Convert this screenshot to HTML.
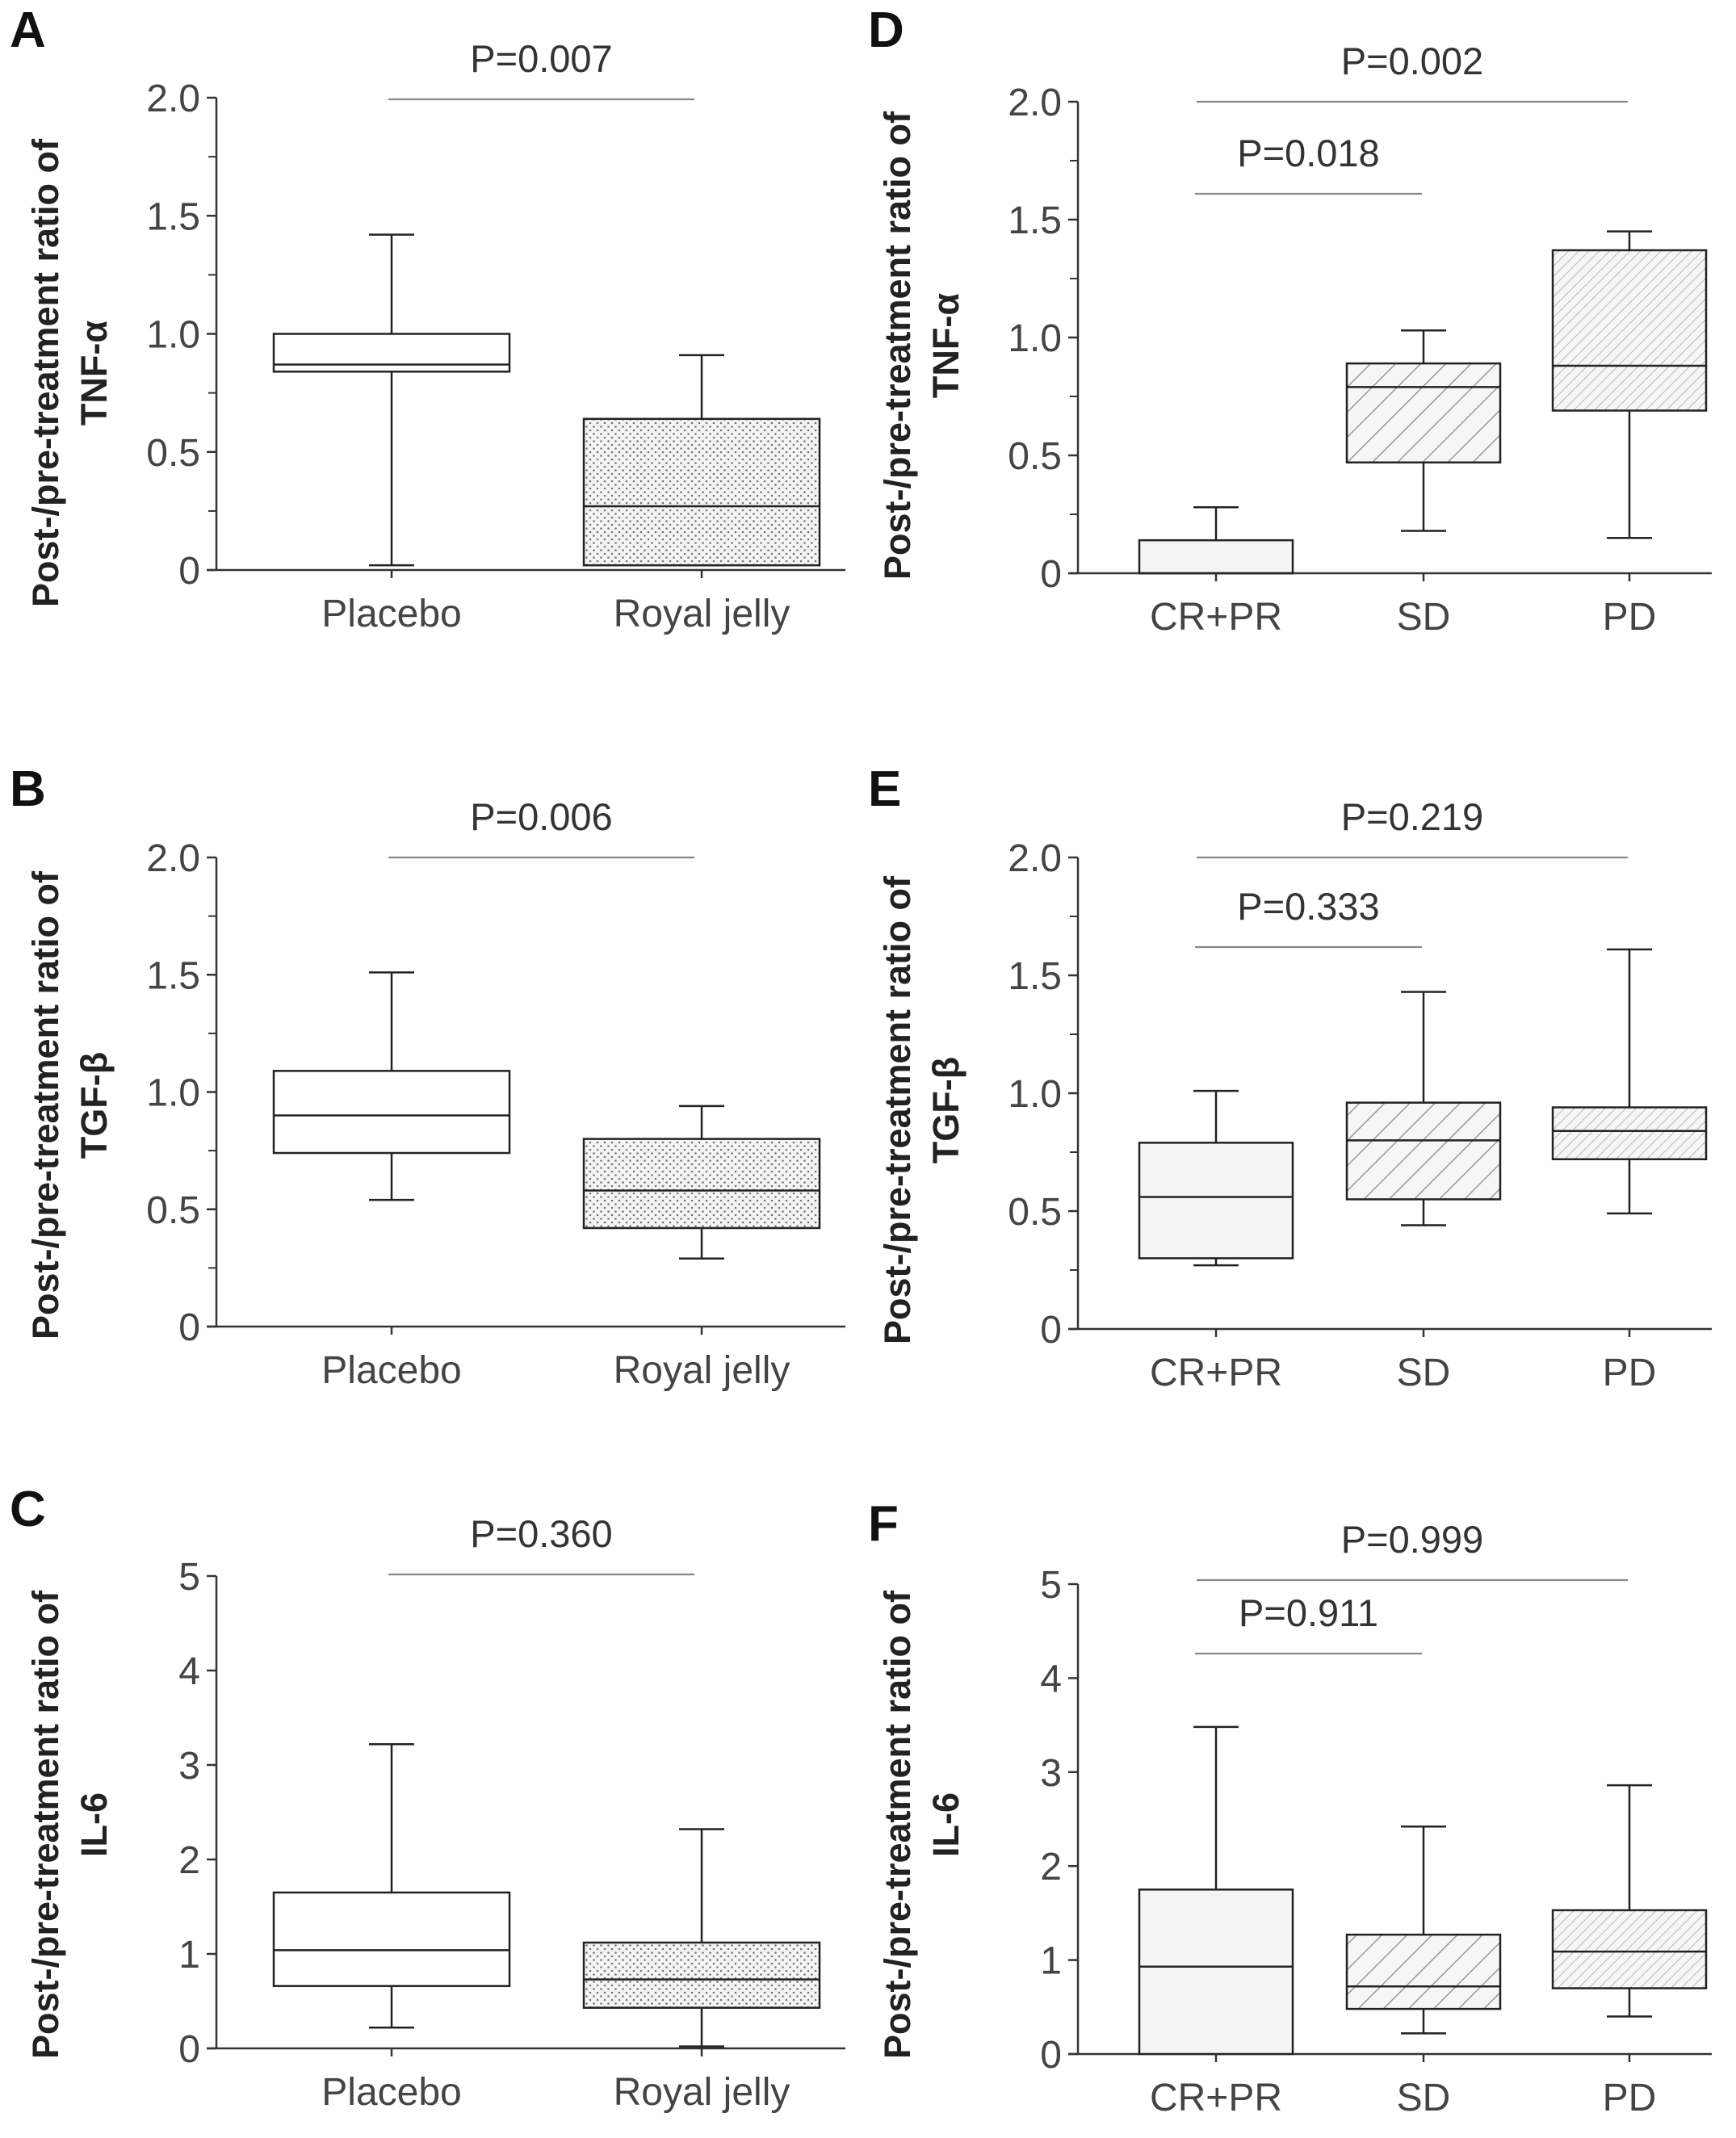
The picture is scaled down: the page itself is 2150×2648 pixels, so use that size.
<!DOCTYPE html>
<html><head><meta charset="utf-8"><style>
html,body{margin:0;padding:0;background:#fff}
svg{display:block}
text{font-family:"Liberation Sans",Arial,sans-serif}
</style></head><body>
<svg id="fig" width="2150" height="2648" viewBox="0 0 2150 2648" xmlns="http://www.w3.org/2000/svg">
<defs>
<pattern id="dots" width="9" height="9" patternUnits="userSpaceOnUse"><rect width="9" height="9" fill="#f4f4f4"/><circle cx="2" cy="2" r="1.3" fill="#777"/><circle cx="6.5" cy="6.5" r="1.3" fill="#777"/></pattern>
<pattern id="hatch" width="22" height="22" patternUnits="userSpaceOnUse" patternTransform="rotate(45)"><rect width="22" height="22" fill="#f6f6f6"/><line x1="0" y1="0" x2="0" y2="22" stroke="#999" stroke-width="3"/></pattern>
<pattern id="hatchfine" width="9" height="9" patternUnits="userSpaceOnUse" patternTransform="rotate(45)"><rect width="9" height="9" fill="#f6f6f6"/><line x1="0" y1="0" x2="0" y2="9" stroke="#aaa" stroke-width="1.6"/></pattern>
</defs>
</svg>
<script>
// [whiskLow, q1, median, q3, whiskHigh]
const catsAB = ["Placebo","Royal jelly"];
const dataA = [[0.02,0.84,0.87,1.0,1.42],[0.02,0.02,0.27,0.64,0.91]];
const dataB = [[0.54,0.74,0.9,1.09,1.51],[0.29,0.42,0.58,0.8,0.94]];
const dataC = [[0.22,0.66,1.04,1.65,3.22],[0.02,0.43,0.73,1.12,2.32]];
const catsDEF = ["CR+PR","SD","PD"];
const dataD = [[null,0,0,0.14,0.28],[0.18,0.47,0.79,0.89,1.03],[0.15,0.69,0.88,1.37,1.45]];
const dataE = [[0.27,0.3,0.56,0.79,1.01],[0.44,0.55,0.8,0.96,1.43],[0.49,0.72,0.84,0.94,1.61]];
const dataF = [[null,0,0.93,1.75,3.48],[0.22,0.48,0.72,1.27,2.42],[0.4,0.7,1.09,1.53,2.86]];
const ticks2 = ["0","0.5","1.0","1.5","2.0"];
const tickVals2 = [0,0.5,1,1.5,2];
const ticks5 = ["0","1","2","3","4","5"];
const tickVals5 = [0,1,2,3,4,5];
const pvalsA = ["P=0.007"], pvalsB = ["P=0.006"], pvalsC = ["P=0.360"];
const pvalsD = ["P=0.002","P=0.018"], pvalsE = ["P=0.219","P=0.333"], pvalsF = ["P=0.999","P=0.911"];

const svg = document.getElementById('fig');
const NS = "http://www.w3.org/2000/svg";
function mk(tag, attrs, parent){const e=document.createElementNS(NS,tag);for(const k in attrs)e.setAttribute(k,attrs[k]);(parent||svg).appendChild(e);return e;}

function panel(cfg){
  const g = mk('g',{});
  
  
  const y = v => cfg.y0 - (v/cfg.max)*(cfg.y0-cfg.yTop);
  const L = mk('text',{x:cfg.lx,y:cfg.ly,'font-size':62,'font-weight':'bold',fill:'#111'},g);
  L.textContent = cfg.letter;
  
  
  const ax = mk('line',{x1:cfg.ax,y1:cfg.yTop,x2:cfg.ax,y2:cfg.y0,stroke:'#333','stroke-width':2.5},g);
  
  
  const xa = mk('line',{x1:cfg.ax-12,y1:cfg.y0,x2:cfg.xEnd,y2:cfg.y0,stroke:'#333','stroke-width':2.5},g);
  
  
  cfg.tickVals.forEach((v,i)=>{
    mk('line',{x1:cfg.ax-12,y1:y(v),x2:cfg.ax,y2:y(v),stroke:'#333','stroke-width':2.5},g);
    const t = mk('text',{x:cfg.ax-20,y:y(v)+17,'font-size':48,fill:'#444','text-anchor':'end'},g);
    t.textContent = cfg.tickLabels[i];
    
    
  });
  if(cfg.minor){ for(let i=0;i<cfg.tickVals.length-1;i++){const v=(cfg.tickVals[i]+cfg.tickVals[i+1])/2;
    mk('line',{x1:cfg.ax-10,y1:y(v),x2:cfg.ax,y2:y(v),stroke:'#333','stroke-width':2},g);} }
  const tt = mk('text',{transform:`translate(${cfg.tx},${cfg.ty}) rotate(-90)`,'font-size':45,'font-weight':'bold',fill:'#222','text-anchor':'middle'},g);
  
  
  const s1 = mk('tspan',{x:0,y:0},tt); s1.textContent='Post-/pre-treatment ratio of';
  const s2 = mk('tspan',{x:0,y:60},tt); s2.textContent=cfg.title;
  cfg.data.forEach((d,i)=>{
    const cx = cfg.centers[i], hw = cfg.hw;
    const bg = mk('g',{},g);
    
    
    const st = {stroke:'#222','stroke-width':2.5};
    if(d[0]!==null){ mk('line',Object.assign({x1:cx,y1:y(d[0]),x2:cx,y2:y(d[1])},st),bg); mk('line',Object.assign({x1:cx-28,y1:y(d[0]),x2:cx+28,y2:y(d[0])},st),bg); }
    mk('line',Object.assign({x1:cx,y1:y(d[3]),x2:cx,y2:y(d[4])},st),bg);
    mk('line',Object.assign({x1:cx-28,y1:y(d[4]),x2:cx+28,y2:y(d[4])},st),bg);
    mk('rect',Object.assign({x:cx-hw,y:y(d[3]),width:2*hw,height:Math.max(0,y(d[1])-y(d[3])),fill:cfg.fills[i]},st),bg);
    mk('line',Object.assign({x1:cx-hw,y1:y(d[2]),x2:cx+hw,y2:y(d[2])},st),bg);
    mk('line',{x1:cx,y1:cfg.y0,x2:cx,y2:cfg.y0+10,stroke:'#333','stroke-width':2.5},g);
    const cl = mk('text',{x:cx,y:cfg.y0+70,'font-size':48,fill:'#444','text-anchor':'middle'},g);
    cl.textContent = cfg.cats[i];
    
    
  });
  cfg.sig.forEach((s,i)=>{
    const ln = mk('line',{x1:s.x1,y1:s.ly,x2:s.x2,y2:s.ly,stroke:'#888','stroke-width':2.2},g);
    
    
    const pt = mk('text',{x:(s.x1+s.x2)/2,y:s.ly-34,'font-size':47,fill:'#333','text-anchor':'middle'},g);
    pt.textContent = cfg.pvals[i];
    
    
  });
}
const leftC = [485,869], rightC=[1506,1763,2018];
const rows=[{y0:706,yTop:121},{y0:1643,yTop:1062},{y0:2537,yTop:1952}];
const rowsR=[{y0:710,yTop:126},{y0:1646,yTop:1062},{y0:2544,yTop:1962}];
const lf=['#fff','url(#dots)'], rf=['#f4f4f4','url(#hatch)','url(#hatchfine)'];
panel({letter:'A',lx:12,ly:58,ax:268,xEnd:1047,...rows[0],max:2,tickVals:tickVals2,tickLabels:ticks2,minor:true,tx:72,ty:462,title:'TNF-α',data:dataA,cats:catsAB,centers:leftC,hw:146,fills:lf,pvals:pvalsA,sig:[{x1:481,x2:860,ly:123}]});
panel({letter:'B',lx:12,ly:998,ax:268,xEnd:1047,...rows[1],max:2,tickVals:tickVals2,tickLabels:ticks2,minor:true,tx:72,ty:1369,title:'TGF-β',data:dataB,cats:catsAB,centers:leftC,hw:146,fills:lf,pvals:pvalsB,sig:[{x1:481,x2:860,ly:1062}]});
panel({letter:'C',lx:12,ly:1890,ax:268,xEnd:1047,...rows[2],max:5,tickVals:tickVals5,tickLabels:ticks5,minor:false,tx:72,ty:2260,title:'IL-6',data:dataC,cats:catsAB,centers:leftC,hw:146,fills:lf,pvals:pvalsC,sig:[{x1:481,x2:860,ly:1950}]});
panel({letter:'D',lx:1075,ly:58,ax:1335,xEnd:2120,...rowsR[0],max:2,tickVals:tickVals2,tickLabels:ticks2,minor:true,tx:1127,ty:428,title:'TNF-α',data:dataD,cats:catsDEF,centers:rightC,hw:95,fills:rf,pvals:pvalsD,sig:[{x1:1482,x2:2016,ly:126},{x1:1480,x2:1761,ly:240}]});
panel({letter:'E',lx:1075,ly:998,ax:1335,xEnd:2120,...rowsR[1],max:2,tickVals:tickVals2,tickLabels:ticks2,minor:true,tx:1127,ty:1375,title:'TGF-β',data:dataE,cats:catsDEF,centers:rightC,hw:95,fills:rf,pvals:pvalsE,sig:[{x1:1482,x2:2016,ly:1062},{x1:1480,x2:1761,ly:1173}]});
panel({letter:'F',lx:1075,ly:1908,ax:1335,xEnd:2120,...rowsR[2],max:5,tickVals:tickVals5,tickLabels:ticks5,minor:false,tx:1127,ty:2260,title:'IL-6',data:dataF,cats:catsDEF,centers:rightC,hw:95,fills:rf,pvals:pvalsF,sig:[{x1:1482,x2:2016,ly:1957},{x1:1480,x2:1761,ly:2048}]});
</script>
</body></html>
